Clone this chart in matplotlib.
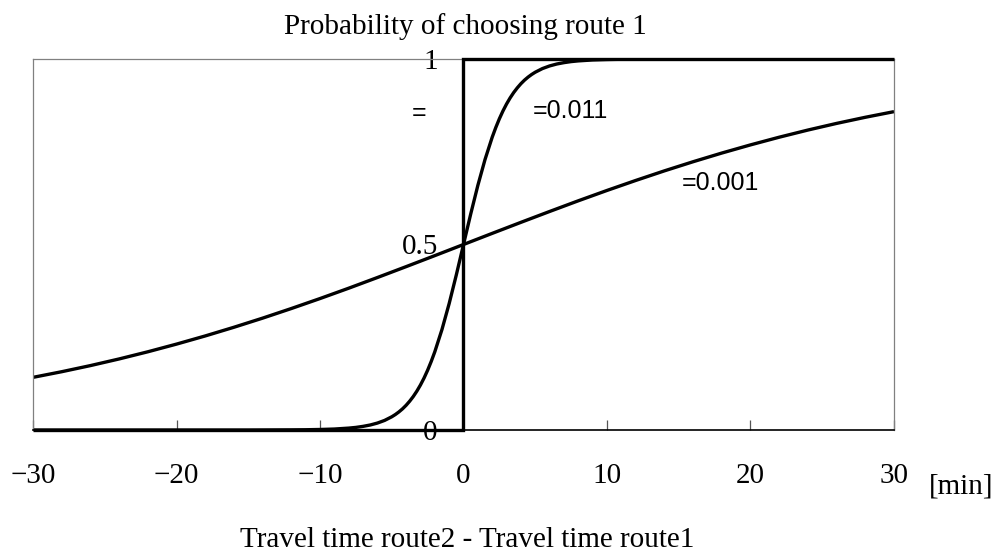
import matplotlib
matplotlib.use("Agg")
import matplotlib.pyplot as plt

# step curve (theta = infinity)
step_x = [-30, 0, 0, 30]
step_y = [0, 0, 1, 1]

# steep curve, theta = 0.011
steep_x = [-30, -15, -12, -11, -10, -9, -8, -7.5, -7, -6.5, -6, -5.5, -5, -4.75, -4.5, -4.25,
           -4, -3.75, -3.5, -3.25, -3, -2.75, -2.5, -2.25, -2, -1.5, -1, -0.5,
           0, 0.5, 1, 1.5, 2, 2.25, 2.5, 2.75, 3, 3.25, 3.5, 3.75, 4, 4.25, 4.5, 4.75,
           5, 5.5, 6, 6.5, 7, 7.5, 8, 9, 10, 11, 12, 15, 30]
steep_y = [0.0, 0.0, 0.0004, 0.0007, 0.0014, 0.0026, 0.0051, 0.0070, 0.0098, 0.0135, 0.0187,
           0.0258, 0.0356, 0.0417, 0.0488, 0.0570,
           0.0666, 0.0777, 0.0903, 0.1048, 0.1213, 0.1400, 0.1611, 0.1847, 0.2108, 0.2709,
           0.3407, 0.4182,
           0.5, 0.5818, 0.6593, 0.7291, 0.7892, 0.8153, 0.8389, 0.8600, 0.8787, 0.8952,
           0.9097, 0.9223, 0.9334, 0.9430, 0.9512, 0.9583,
           0.9644, 0.9742, 0.9813, 0.9865, 0.9902, 0.9930, 0.9949, 0.9974, 0.9986, 0.9993,
           0.9996, 1.0, 1.0]

# shallow curve, theta = 0.001
shallow_x = [-30, -28, -26, -24, -22, -20, -18, -16, -14, -12, -10, -8, -6, -4, -2, 0,
             2, 4, 6, 8, 10, 12, 14, 16, 18, 20, 22, 24, 26, 28, 30]
shallow_y = [0.1419, 0.1571, 0.1736, 0.1915, 0.2108, 0.2315, 0.2535, 0.2769, 0.3015, 0.3274,
             0.3543, 0.3822, 0.4110, 0.4403, 0.4700, 0.5,
             0.5300, 0.5597, 0.5890, 0.6178, 0.6457, 0.6726, 0.6985, 0.7231, 0.7465, 0.7685,
             0.7892, 0.8085, 0.8264, 0.8429, 0.8581]

xticks = [-30, -20, -10, 0, 10, 20, 30]
xtick_labels = ['\u221230', '\u221220', '\u221210', '0', '10', '20', '30']
yticks = [0, 0.5, 1]
ytick_labels = ['0', '0.5', '1']

serif = ['Liberation Serif', 'DejaVu Serif']
sans = ['Liberation Sans', 'DejaVu Sans']
W, H = 1002, 552

fig = plt.figure(figsize=(W / 100, H / 100), dpi=100)
ax = fig.add_axes([33 / W, 1 - 430 / H, (894 - 33) / W, (430 - 59) / H])

lw = 2.4
ax.plot(shallow_x, shallow_y, color='black', lw=lw, solid_capstyle='butt')
ax.plot(steep_x, steep_y, color='black', lw=lw, solid_capstyle='butt')
ax.plot(step_x, step_y, color='black', lw=lw, clip_on=False, zorder=5,
        solid_capstyle='butt', solid_joinstyle='miter')

ax.set_xlim(-30, 30)
ax.set_ylim(0, 1)

for s in ['left', 'top', 'right']:
    ax.spines[s].set_color('#808080')
    ax.spines[s].set_linewidth(0.9)
ax.spines['bottom'].set_color('black')
ax.spines['bottom'].set_linewidth(1.2)

ax.set_xticks(xticks)
ax.set_xticklabels(xtick_labels, fontfamily=serif, fontsize=21)
ax.tick_params(axis='x', direction='in', length=7, width=0.9, color='#555555', pad=24)
ax.set_yticks([])

# y tick labels sit just left of x = 0
sec = ax.secondary_yaxis('left')
sec.set_location(0.5)
sec.set_yticks(yticks)
sec.set_yticklabels(ytick_labels, fontfamily=serif, fontsize=21)
sec.tick_params(length=0, pad=18.5)
for s in sec.spines.values():
    s.set_visible(False)

# curve labels
ax.text(-3.1, 0.855, '=', fontfamily=sans, fontsize=18, ha='center', va='center')
ax.text(4.8, 0.86, '=0.011', fontfamily=sans, fontsize=18, ha='left', va='center')
ax.text(15.2, 0.665, '=0.001', fontfamily=sans, fontsize=18, ha='left', va='center')

fig.text(465 / W, 1 - 34 / H, 'Probability of choosing route 1', fontfamily=serif,
         fontsize=21, ha='center', va='baseline')
fig.text(961 / W, 1 - 487 / H, '[min]', fontfamily=serif, fontsize=21,
         ha='center', va='center')
fig.text(467 / W, 1 - 540 / H, 'Travel time route2 - Travel time route1', fontfamily=serif,
         fontsize=21, ha='center', va='center')

fig.savefig('out.png', dpi=100)
